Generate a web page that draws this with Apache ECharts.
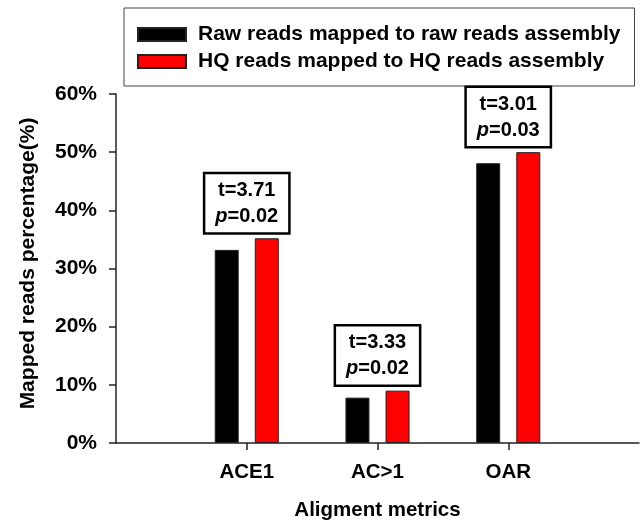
<!DOCTYPE html>
<html>
<head>
<meta charset="utf-8">
<script src="https://cdn.jsdelivr.net/npm/echarts@6/dist/echarts.min.js"></script>
<style>
  html, body { margin: 0; padding: 0; background: #fff; }
  #chart { width: 642px; height: 526px; }
</style>
</head>
<body>
<div id="chart"></div>
<script>
// Alignment metrics and mapped-read percentages per assembly type
const categories = ['ACE1', 'AC>1', 'OAR'];
const rawReads = [33.2, 7.8, 48.1];
const hqReads = [35.2, 9.0, 50.0];
const tStats = [3.71, 3.33, 3.01];
const pValues = [0.02, 0.02, 0.03];
const yTicks = [0, 10, 20, 30, 40, 50, 60];

const seriesNames = [
  'Raw reads mapped to raw reads assembly',
  'HQ reads mapped to HQ reads assembly'
];

// The x axis spans one empty slot on each side of the three groups
const axisCats = [''].concat(categories, ['']);
const pad = arr => [null].concat(arr, [null]);
const tallest = categories.map((c, i) => Math.max(rawReads[i], hqReads[i]));

const FONT = 'Arial, "Liberation Sans", sans-serif';
const INK = '#000';

const chart = echarts.init(document.getElementById('chart'), null, { renderer: 'canvas' });

chart.setOption({
  animation: false,
  backgroundColor: '#fff',
  textStyle: { fontFamily: FONT },
  grid: { left: 116, right: 1, top: 94, bottom: 83, containLabel: false },
  legend: {
    orient: 'vertical',
    left: 124,
    top: 8,
    padding: [13, 14, 11, 13],
    itemGap: 0,
    itemWidth: 48,
    itemHeight: 13,
    borderColor: '#444',
    borderWidth: 1,
    icon: 'rect',
    data: seriesNames,
    textStyle: {
      fontFamily: FONT,
      fontSize: 21,
      fontWeight: 'bold',
      color: INK,
      lineHeight: 27,
      padding: [0, 0, 0, 7]
    }
  },
  xAxis: {
    type: 'category',
    data: axisCats,
    boundaryGap: false,
    name: 'Aligment metrics',
    nameLocation: 'middle',
    nameGap: 57,
    nameTextStyle: { fontSize: 20.5, fontWeight: 'bold', color: INK, fontFamily: FONT },
    axisLine: { lineStyle: { color: '#222', width: 1.5 } },
    axisTick: {
      show: true,
      length: 7,
      interval: (idx, val) => val !== '',
      lineStyle: { color: '#222', width: 1.5 }
    },
    axisLabel: {
      interval: 0,
      margin: 19,
      fontSize: 20.5,
      fontWeight: 'bold',
      color: INK,
      fontFamily: FONT
    },
    splitLine: { show: false }
  },
  yAxis: {
    type: 'value',
    min: yTicks[0],
    max: yTicks[yTicks.length - 1],
    interval: yTicks[1] - yTicks[0],
    name: 'Mapped reads percentage(%)',
    nameLocation: 'middle',
    nameGap: 77,
    nameTextStyle: { fontSize: 21, fontWeight: 'bold', color: INK, fontFamily: FONT, padding: [0, 0, 0, 10] },
    axisLine: { show: true, lineStyle: { color: '#222', width: 1.5 } },
    axisTick: { show: true, length: 7, lineStyle: { color: '#222', width: 1.5 } },
    axisLabel: {
      margin: 19,
      fontSize: 21,
      fontWeight: 'bold',
      color: INK,
      fontFamily: FONT,
      formatter: '{value}%'
    },
    splitLine: { show: false }
  },
  series: [
    {
      name: seriesNames[0],
      type: 'bar',
      data: pad(rawReads),
      barWidth: 24,
      barGap: '67%',
      itemStyle: { color: '#000', borderColor: '#222', borderWidth: 1 }
    },
    {
      name: seriesNames[1],
      type: 'bar',
      data: pad(hqReads),
      barWidth: 24,
      barGap: '67%',
      itemStyle: { color: '#ff0000', borderColor: '#222', borderWidth: 1 }
    },
    {
      // t-test result boxes above each group
      name: 'stats',
      type: 'scatter',
      data: pad(tallest),
      symbolSize: 0.1,
      itemStyle: { color: '#fff', opacity: 1 },
      silent: true,
      z: 5,
      label: {
        show: true,
        position: 'top',
        distance: 6,
        backgroundColor: '#fff',
        borderColor: '#000',
        borderWidth: 2.5,
        padding: [3, 10, 3, 10],
        formatter: p => {
          const i = p.dataIndex - 1;
          return '{a|t=' + tStats[i].toFixed(2) + '}\n{i|p}{a|=' + pValues[i].toFixed(2) + '}';
        },
        rich: {
          a: { fontSize: 20, fontWeight: 'bold', color: INK, fontFamily: FONT, lineHeight: 26 },
          i: { fontSize: 20, fontWeight: 'bold', fontStyle: 'italic', color: INK, fontFamily: FONT, lineHeight: 26 }
        }
      }
    }
  ]
});
</script>
</body>
</html>
